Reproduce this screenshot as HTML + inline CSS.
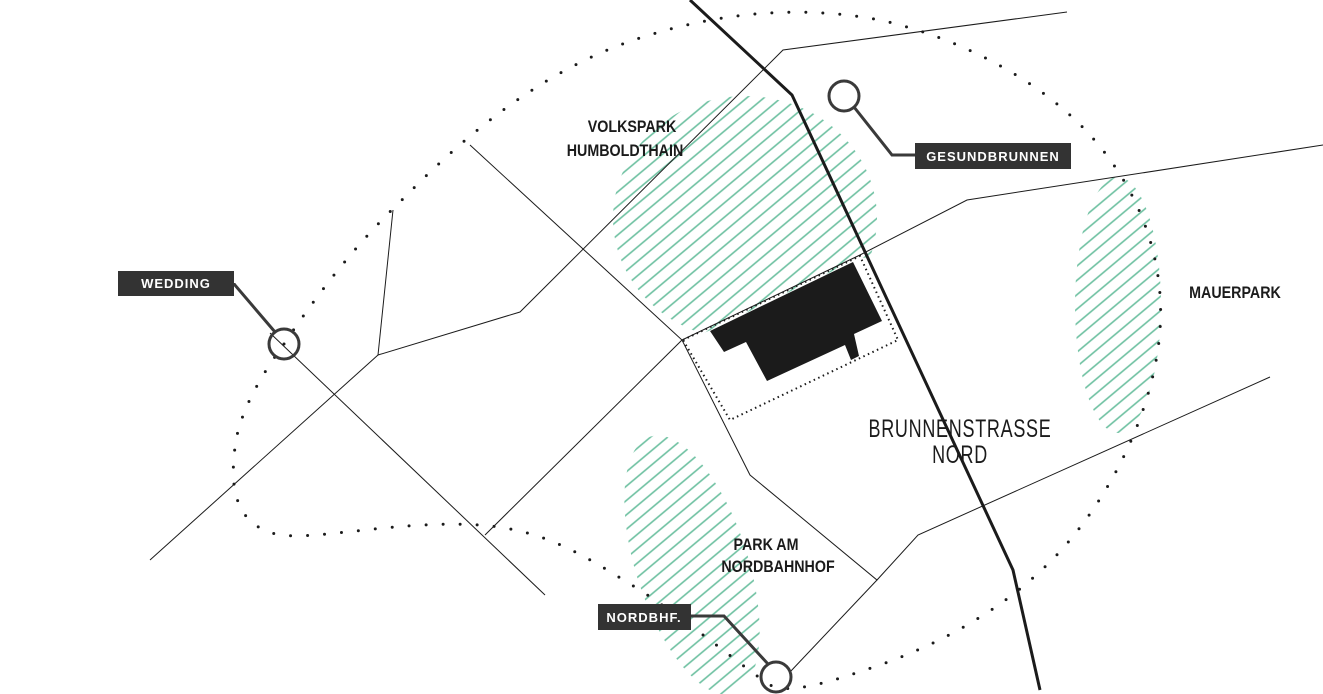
<!DOCTYPE html>
<html><head><meta charset="utf-8"><style>
html,body{margin:0;padding:0;background:#fff}
svg{display:block}
.t{font-family:"Liberation Sans",sans-serif;fill:#1b1b1b}
.lb{font-family:"Liberation Sans",sans-serif;font-weight:bold;fill:#fff;font-size:13px;letter-spacing:1px}
</style></head><body>
<svg width="1323" height="694" viewBox="0 0 1323 694" xmlns="http://www.w3.org/2000/svg">
<defs>
<pattern id="h" width="11" height="11" patternUnits="userSpaceOnUse" patternTransform="rotate(-40)">
<line x1="0" y1="5" x2="11" y2="5" stroke="#6cc0a0" stroke-width="1.6"/>
</pattern>
<clipPath id="vc"><polygon points="600,80 900,80 900,255 860,258 700,335 650,342 600,300"/></clipPath>
<clipPath id="nc"><ellipse cx="692" cy="565" rx="56" ry="135" transform="rotate(-18 692 565)"/></clipPath>
</defs>
<g clip-path="url(#vc)"><ellipse cx="745" cy="218" rx="132" ry="122" fill="url(#h)"/></g>
<ellipse cx="1118" cy="305" rx="43" ry="128" fill="url(#h)"/>
<g clip-path="url(#nc)"><rect x="580" y="420" width="220" height="274" fill="url(#h)"/></g>
<g stroke="#1b1b1b" stroke-width="1" fill="none">
<polyline points="1067,12 783,50 520,312 378,355 393,210"/>
<polyline points="470,145 682,340 750,475 877,580 918,535 1270,377"/>
<polyline points="682,340 860,255 967,200 1323,145"/>
<line x1="150" y1="560" x2="378" y2="355"/>
<line x1="270" y1="333" x2="545" y2="595"/>
<line x1="682" y1="340" x2="485" y2="535"/>
<line x1="877" y1="580" x2="790" y2="672"/>
</g>
<polyline points="690,0 792,95 1013,570 1040,690" stroke="#1b1b1b" stroke-width="3" fill="none"/>
<polygon points="683,340 860,256 898,340 730,420" fill="none" stroke="#1b1b1b" stroke-width="2" stroke-dasharray="1.5 3.5"/>
<polygon points="710,331 853,262 882,321 854,334 859,356 851,360 845,345 767,381 746,342 724,352" fill="#1b1b1b"/>
<path d="M284,344 C320,290 360,240 400,202 C460,140 540,70 640,38 C720,12 800,5 880,20 C960,38 1040,80 1090,135 C1140,190 1165,260 1160,330 C1155,400 1120,480 1070,540 C1020,600 950,640 880,665 C830,682 790,695 770,685 C740,665 700,630 640,590 C590,560 550,530 480,525 C400,520 320,540 280,535 C230,525 230,480 236,440 C242,410 258,380 284,344 Z" fill="none" stroke="#1b1b1b" stroke-width="3" stroke-linecap="round" stroke-dasharray="0 17"/>
<g stroke="#3a3a3a" stroke-width="3" fill="none">
<circle cx="844" cy="96" r="15"/><polyline points="854,107 892,155 915,155"/>
<circle cx="284" cy="344" r="15"/><polyline points="275,332 234,284 234,283"/>
<circle cx="776" cy="677" r="15"/><polyline points="768,664 724,616 691,616"/>
</g>
<rect x="915" y="143" width="156" height="26" fill="#333"/>
<text class="lb" x="993" y="161" text-anchor="middle">GESUNDBRUNNEN</text>
<rect x="118" y="271" width="116" height="25" fill="#333"/>
<text class="lb" x="176" y="288" text-anchor="middle">WEDDING</text>
<rect x="598" y="604" width="93" height="26" fill="#333"/>
<text class="lb" x="644" y="622" text-anchor="middle">NORDBHF.</text>
<g class="t" font-size="17" font-weight="bold" text-anchor="middle">
<text transform="translate(632,132) scale(0.84,1)">VOLKSPARK</text>
<text transform="translate(625,156) scale(0.84,1)">HUMBOLDTHAIN</text>
<text transform="translate(1235,298) scale(0.84,1)">MAUERPARK</text>
<text transform="translate(766,550) scale(0.84,1)">PARK AM</text>
<text transform="translate(778,572) scale(0.84,1)">NORDBAHNHOF</text>
</g>
<g class="t" font-size="25" text-anchor="middle" letter-spacing="1">
<text transform="translate(960,437) scale(0.72,1)">BRUNNENSTRASSE</text>
<text transform="translate(960,463) scale(0.72,1)">NORD</text>
</g>
</svg>
</body></html>
